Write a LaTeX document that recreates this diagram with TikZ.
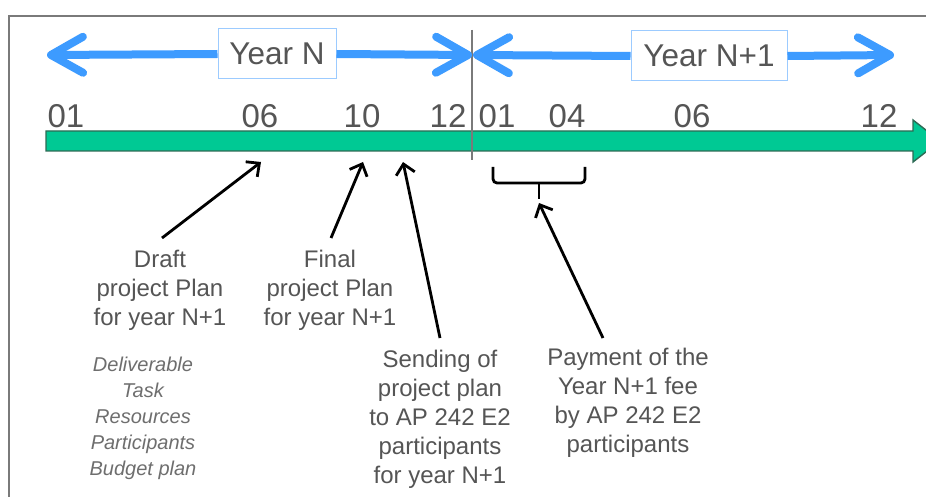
\documentclass[tikz,border=0pt]{standalone}
\usepackage{fontspec}
\setmainfont{Liberation Sans}
\usetikzlibrary{arrows.meta}
\definecolor{yearblue}{HTML}{3D9BFF}
\definecolor{boxblue}{HTML}{9CCBFF}
\definecolor{bargreen}{HTML}{00C994}
\definecolor{baredge}{HTML}{2E6B55}
\definecolor{txtgray}{HTML}{555555}
\definecolor{framegray}{HTML}{7A7A7A}
\tikzset{
  yeararrow/.style={draw=yearblue, line width=8pt,
    -{Straight Barb[length=32pt,width=36pt,line width=8pt,round]}},
  yearbox/.style={draw=boxblue, line width=1pt, fill=white, text=txtgray,
    font=\fontsize{31.5}{36}\selectfont, inner sep=0pt},
  month/.style={anchor=base, text=txtgray, inner sep=0pt,
    font=\fontsize{33}{38}\selectfont},
  note/.style={anchor=north, align=center, text=txtgray, inner sep=0pt,
    font=\fontsize{24}{29}\selectfont},
  items/.style={anchor=north, align=center, text=txtgray!85, inner sep=0pt,
    font=\fontsize{20}{26}\selectfont\itshape},
  pointer/.style={draw=black, line width=2.8pt,
    -{Straight Barb[length=10pt,width=19pt,line width=2.8pt]}},
}
\begin{document}
\begin{tikzpicture}[x=1pt,y=-1pt]
\useasboundingbox (0,0) rectangle (926,497);
\clip (0,0) rectangle (926,497);
\fill[white] (0,0) rectangle (926,497);

% outer frame (left and top edges)
\draw[framegray, line width=1.5pt] (9,497) -- (9,16) -- (930,16);

% timeline bar
\fill[bargreen, draw=baredge, line width=1.4pt, line join=miter]
  (46,131) -- (913,131) -- (913,120) -- (940,141) -- (913,162) -- (913,151) -- (46,151) -- cycle;

% month marks
\node[month] (m01)  at (66,128)  {01};
\node[month] (m06)  at (260,128) {06};
\node[month] (m10)  at (362,128) {10};
\node[month] (m12)  at (448,128) {12};
\node[month] (n01)  at (497,128) {01};
\node[month] (n04)  at (567,128) {04};
\node[month] (n06)  at (692,128) {06};
\node[month] (n12)  at (879,128) {12};

% year boundary
\draw[framegray, line width=1.2pt] (472,30) -- (472,160);

% year spans
\coordinate (yNl) at (47,55);
\coordinate (yNr) at (472,55);
\coordinate (yMl) at (473,55);
\coordinate (yMr) at (894,55);
\node[yearbox, minimum width=118pt, minimum height=50pt] (yearN) at (277,54) {Year N};
\node[yearbox, minimum width=156pt, minimum height=50pt] (yearM) at (709,56) {Year N+1};
\draw[yeararrow] (yearN.west) -- (yNl);
\draw[yeararrow] (yearN.east) -- (yNr);
\draw[yeararrow] (yearM.west) -- (yMl);
\draw[yeararrow] (yearM.east) -- (yMr);

% event notes
\node[note] (draft) at (160,250) {Draft\\project Plan\\for year N+1};
\node[note] (final) at (330,250) {Final\\project Plan\\for year N+1};
\node[items] (list) at (143,357) {Deliverable\\Task\\Resources\\Participants\\Budget plan};
\node[note] (send) at (440,350) {Sending of\\project plan\\to AP 242 E2\\participants\\for year N+1};
\node[note] (pay) at (628,348) {Payment of the\\Year N+1 fee\\by AP 242 E2\\participants};

% payment period bracket
\draw[black, line width=2.8pt, rounded corners=4pt] (493,167) -- (493,183) -- (585,183) -- (585,167);
\coordinate (brkmid) at (539,183);
\coordinate (brk) at (539,203);
\draw[black, line width=2.8pt] (brkmid) -- (539,199);

% pointers onto the timeline
\coordinate (tDraft) at (261,162);
\coordinate (tFinal) at (363,162);
\coordinate (tSend) at (403,162);
\draw[pointer] ([xshift=2pt,yshift=12pt]draft.north) -- (tDraft);
\draw[pointer] ([xshift=1pt,yshift=12pt]final.north) -- (tFinal);
\draw[pointer] ([yshift=12pt]send.north) -- (tSend);
\draw[pointer] ([xshift=-25pt,yshift=10pt]pay.north) -- (brk);
\end{tikzpicture}
\end{document}
